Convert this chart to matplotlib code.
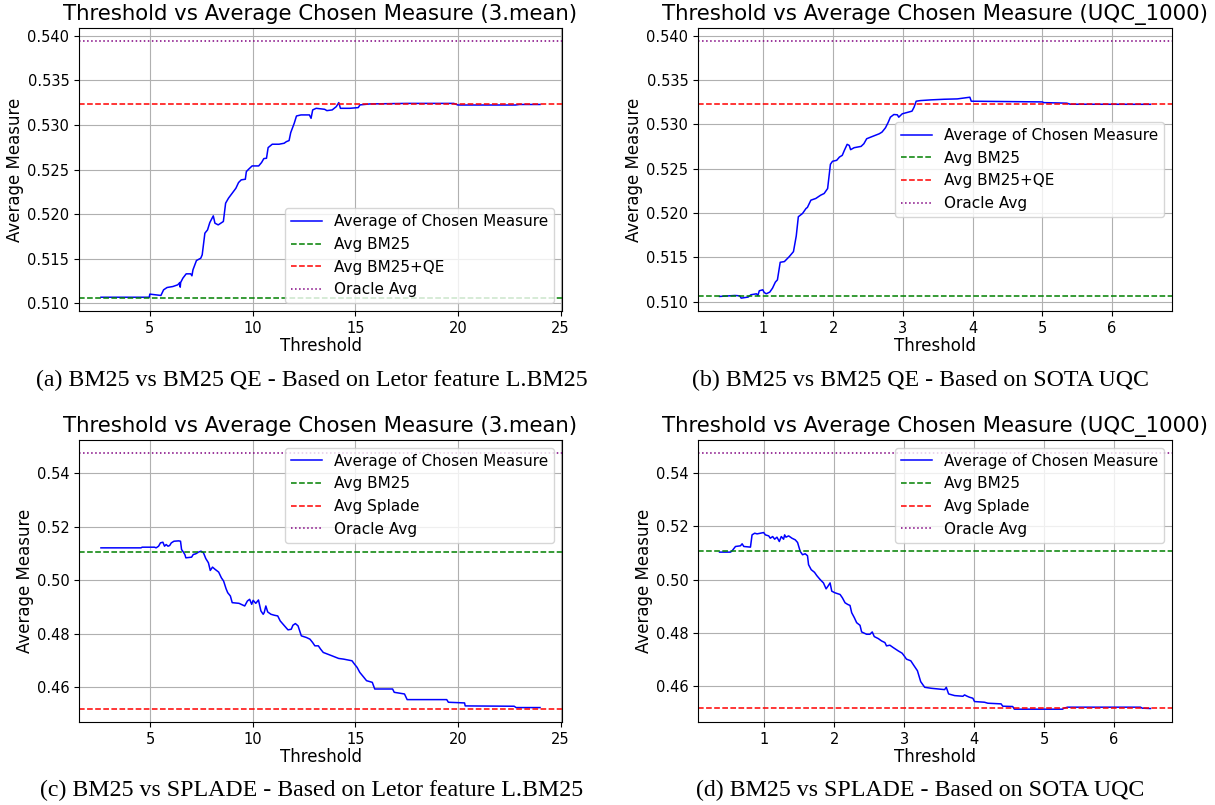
import matplotlib
matplotlib.use("Agg")
import matplotlib.pyplot as plt

# baselines
avg_bm25 = 0.5106
avg_qe = 0.5323
oracle_qe = 0.5394
avg_splade = 0.4517
oracle_splade = 0.5476

# (a) BM25 vs BM25 QE, Letor feature L.BM25
thr_a = [2.62, 4.97, 5.00, 5.54, 5.67, 5.84, 6.12, 6.36, 6.46, 6.48, 6.50, 6.61, 6.77, 6.99,
         7.05, 7.10, 7.27, 7.48, 7.55, 7.68, 7.81, 7.92, 8.09, 8.17, 8.33, 8.58, 8.69, 8.83,
         9.07, 9.19, 9.32, 9.45, 9.65, 9.70, 9.81, 9.98, 10.30, 10.44, 10.55, 10.68, 10.76,
         10.96, 11.29, 11.54, 11.65, 11.78, 11.86, 12.03, 12.14, 12.36, 12.77, 12.85, 12.93,
         13.10, 13.51, 13.62, 13.88, 14.08, 14.20, 14.28, 14.74, 15.15, 15.23, 15.72, 17.5,
         19.8, 20.0, 22.8, 23.0, 24.0]
avg_a = [0.5107, 0.5107, 0.51105, 0.5109, 0.51153, 0.51179, 0.5119, 0.51209, 0.51235, 0.51183,
         0.51235, 0.51284, 0.51332, 0.51332, 0.5131, 0.51377, 0.51481, 0.51507, 0.51545,
         0.51787, 0.51824, 0.51906, 0.51981, 0.51899, 0.5188, 0.51918, 0.52123, 0.52179,
         0.52253, 0.5229, 0.52354, 0.52384, 0.52391, 0.52477, 0.52503, 0.5254, 0.5254,
         0.52578, 0.52622, 0.52626, 0.52745, 0.52783, 0.52783, 0.52794, 0.52812, 0.52824,
         0.52913, 0.53017, 0.53099, 0.53111, 0.53111, 0.53073, 0.53167, 0.53185, 0.53174,
         0.53159, 0.53167, 0.53204, 0.53249, 0.53185, 0.53185, 0.53193, 0.53223, 0.53234,
         0.5324, 0.5324, 0.53222, 0.53222, 0.53228, 0.53228]

# (b) BM25 vs BM25 QE, SOTA UQC
thr_b = [0.37, 0.59, 0.66, 0.68, 0.78, 0.82, 0.90, 0.92, 0.94, 0.99, 1.01, 1.04, 1.09, 1.13,
         1.17, 1.20, 1.24, 1.30, 1.37, 1.43, 1.47, 1.50, 1.56, 1.61, 1.63, 1.68, 1.75, 1.82,
         1.87, 1.92, 1.96, 1.99, 2.05, 2.09, 2.13, 2.16, 2.20, 2.23, 2.25, 2.30, 2.40, 2.44,
         2.48, 2.54, 2.66, 2.70, 2.75, 2.79, 2.82, 2.87, 2.92, 2.94, 2.99, 3.06, 3.13, 3.16,
         3.19, 3.25, 3.40, 3.59, 3.78, 3.96, 3.98, 5.00, 5.02, 5.35, 5.40, 6.55]
avg_b = [0.5106, 0.51071, 0.51067, 0.51041, 0.51053, 0.51079, 0.5109, 0.51071, 0.51124,
         0.51135, 0.51105, 0.5109, 0.51109, 0.51154, 0.51221, 0.51247, 0.51445, 0.51453,
         0.51509, 0.51565, 0.51741, 0.51958, 0.51995, 0.52051, 0.52063, 0.52145, 0.52164,
         0.52201, 0.5222, 0.52276, 0.52549, 0.52583, 0.52594, 0.52631, 0.5265, 0.52706,
         0.52774, 0.52762, 0.52714, 0.52736, 0.52751, 0.52781, 0.52837, 0.52856, 0.52893,
         0.52912, 0.52961, 0.53024, 0.5308, 0.5311, 0.53107, 0.5308, 0.53118, 0.53133,
         0.53148, 0.53193, 0.5326, 0.53267, 0.53275, 0.53282, 0.53286, 0.53305, 0.5326,
         0.53252, 0.53244, 0.53238, 0.53226, 0.53225]

# (c) BM25 vs SPLADE, Letor feature L.BM25
thr_c = [2.59, 4.54, 4.60, 5.20, 5.28, 5.40, 5.49, 5.61, 5.69, 5.77, 5.86, 5.94, 6.02, 6.15,
         6.38, 6.47, 6.52, 6.60, 6.68, 6.73, 7.01, 7.09, 7.21, 7.34, 7.47, 7.59, 7.70, 7.83,
         7.92, 8.03, 8.16, 8.33, 8.46, 8.57, 8.69, 8.77, 8.90, 8.99, 9.32, 9.60, 9.73, 9.84,
         9.94, 10.01, 10.14, 10.27, 10.39, 10.50, 10.55, 10.63, 10.72, 10.88, 11.05, 11.21,
         11.33, 11.54, 11.71, 11.87, 11.95, 12.07, 12.20, 12.28, 12.36, 12.61, 12.78, 12.91,
         13.02, 13.19, 13.30, 13.43, 13.85, 14.18, 14.42, 14.83, 14.95, 15.08, 15.21, 15.41,
         15.54, 15.82, 15.94, 16.81, 16.89, 17.39, 17.52, 19.45, 19.53, 20.32, 20.35, 22.74,
         22.83, 24.0]
avg_c = [0.51205, 0.51205, 0.5123, 0.5123, 0.51205, 0.51267, 0.51391, 0.51416, 0.51267,
         0.51329, 0.51267, 0.51292, 0.51391, 0.51453, 0.51466, 0.51453, 0.51143, 0.51056,
         0.50957, 0.50832, 0.50857, 0.50957, 0.50981, 0.51043, 0.51081, 0.51019, 0.50807,
         0.50646, 0.5036, 0.50484, 0.50398, 0.50298, 0.50087, 0.49963, 0.49677, 0.49528,
         0.49404, 0.49155, 0.4913, 0.49031, 0.49217, 0.4928, 0.49093, 0.49242, 0.4913,
         0.49255, 0.48845, 0.4872, 0.48783, 0.49031, 0.48807, 0.4872, 0.48683, 0.48658,
         0.48472, 0.48286, 0.48137, 0.48161, 0.4831, 0.48373, 0.48286, 0.48099, 0.47913,
         0.47851, 0.47789, 0.47665, 0.4754, 0.4754, 0.47416, 0.47292, 0.47168, 0.47068,
         0.47043, 0.46981, 0.46857, 0.46733, 0.46547, 0.4636, 0.46236, 0.46174, 0.45925,
         0.45925, 0.45801, 0.45739, 0.45528, 0.45528, 0.45429, 0.45404, 0.45292, 0.4528,
         0.4523, 0.4523]

# (d) BM25 vs SPLADE, SOTA UQC
thr_d = [0.359, 0.516, 0.539, 0.587, 0.658, 0.682, 0.706, 0.801, 0.824, 0.862, 0.896, 0.943,
         0.99, 1.014, 1.062, 1.085, 1.119, 1.147, 1.18, 1.214, 1.242, 1.275, 1.29, 1.309,
         1.347, 1.394, 1.442, 1.475, 1.513, 1.546, 1.584, 1.617, 1.632, 1.67, 1.717, 1.75,
         1.798, 1.845, 1.883, 1.916, 1.94, 1.964, 2.011, 2.083, 2.116, 2.154, 2.192, 2.225,
         2.249, 2.287, 2.32, 2.368, 2.391, 2.462, 2.51, 2.543, 2.572, 2.629, 2.676, 2.724,
         2.747, 2.795, 2.842, 2.914, 2.97, 2.999, 3.032, 3.094, 3.141, 3.189, 3.236, 3.293,
         3.388, 3.483, 3.578, 3.602, 3.635, 3.721, 3.84, 3.863, 3.901, 3.934, 3.982, 4.006,
         4.148, 4.196, 4.386, 4.409, 4.552, 4.575, 5.264, 5.288, 5.335, 6.38, 6.404, 6.522]
avg_d = [0.51035, 0.51035, 0.51085, 0.51246, 0.51271, 0.51346, 0.51246, 0.51222, 0.51682,
         0.51744, 0.51719, 0.51744, 0.51769, 0.51682, 0.51644, 0.51557, 0.51619, 0.5152,
         0.51595, 0.51433, 0.51619, 0.5152, 0.51682, 0.51595, 0.51644, 0.51557, 0.51495,
         0.51396, 0.5106, 0.50936, 0.50973, 0.50898, 0.50563, 0.50376, 0.50277, 0.50153,
         0.50004, 0.4988, 0.49656, 0.4978, 0.4988, 0.49569, 0.49507, 0.49445, 0.4932,
         0.49134, 0.49072, 0.49034, 0.48761, 0.48574, 0.48387, 0.48288, 0.4804, 0.47953,
         0.47953, 0.4804, 0.47865, 0.47791, 0.47703, 0.47641, 0.47517, 0.47542, 0.47455,
         0.4733, 0.47243, 0.47144, 0.4702, 0.46957, 0.46771, 0.46585, 0.46174, 0.45963,
         0.45926, 0.45901, 0.45876, 0.45963, 0.45714, 0.45652, 0.45627, 0.45677, 0.45627,
         0.4559, 0.45553, 0.45428, 0.45403, 0.45366, 0.45341, 0.45254, 0.45242, 0.45142,
         0.45142, 0.4518, 0.45217, 0.45217, 0.4518, 0.45167]

panels = [
    (thr_a, avg_a, "3.mean", "Avg BM25+QE", avg_qe, oracle_qe, "lower right",
     "(a) BM25 vs BM25 QE - Based on Letor feature L.BM25"),
    (thr_b, avg_b, "UQC_1000", "Avg BM25+QE", avg_qe, oracle_qe, "center right",
     "(b) BM25 vs BM25 QE - Based on SOTA UQC"),
    (thr_c, avg_c, "3.mean", "Avg Splade", avg_splade, oracle_splade, "upper right",
     "(c) BM25 vs SPLADE - Based on Letor feature L.BM25"),
    (thr_d, avg_d, "UQC_1000", "Avg Splade", avg_splade, oracle_splade, "upper right",
     "(d) BM25 vs SPLADE - Based on SOTA UQC"),
]

W, H = 1215, 805
# axes boxes in pixels: left, top, right, bottom
boxes = [(79, 28, 562, 311), (698, 28, 1172, 311), (79, 440, 562, 722), (698, 440, 1172, 722)]
cap_pos = [(312, 380), (920, 380), (312, 790), (920, 790)]

fig = plt.figure(figsize=(W / 100, H / 100), dpi=100)

for (thr, avg, name, lab2, v2, vor, loc, cap), (l, t, r, b), (cx, cy) in zip(panels, boxes, cap_pos):
    ax = fig.add_axes([l / W, 1 - b / H, (r - l) / W, (b - t) / H])
    ax.plot(thr, avg, color="blue", lw=1.1, label="Average of Chosen Measure")
    ax.axhline(avg_bm25, color="green", ls="--", lw=1.1, label="Avg BM25")
    ax.axhline(v2, color="red", ls="--", lw=1.1, label=lab2)
    ax.axhline(vor, color="purple", ls=":", lw=1.1, label="Oracle Avg")
    ax.set_title(f"Threshold vs Average Chosen Measure ({name})", fontsize=15.3)
    ax.set_xlabel("Threshold", fontsize=12, labelpad=1)
    ax.set_ylabel("Average Measure", fontsize=12, labelpad=2)
    ax.tick_params(labelsize=10.5)
    ax.grid(True)
    ax.legend(loc=loc, fontsize=11)
    fig.text(cx / W, 1 - cy / H, cap, ha="center", va="center",
             fontsize=17.2, family="Liberation Serif")

fig.savefig("out.png", dpi=100)
